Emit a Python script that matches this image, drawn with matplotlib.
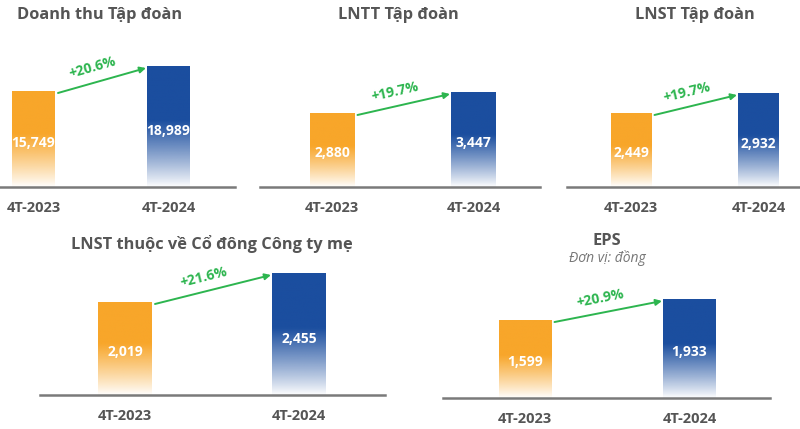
import numpy as np
import matplotlib.pyplot as plt
from matplotlib.colors import to_rgb

plt.rcParams["font.family"] = ["Open Sans", "DejaVu Sans"]

W, H, DPI = 800, 429, 100

# ---- data -------------------------------------------------------------
periods = ["4T-2023", "4T-2024"]
titles = ["Doanh thu Tập đoàn", "LNTT Tập đoàn", "LNST Tập đoàn",
          "LNST thuộc về Cổ đông Công ty mẹ", "EPS"]
revenue = [15749, 18989]
pbt = [2880, 3447]
pat = [2449, 2932]
pat_parent = [2019, 2455]
eps = [1599, 1933]
growth = ["+20.6%", "+19.7%", "+19.7%", "+21.6%", "+20.9%"]
eps_unit = "Đơn vị: đồng"

series = [revenue, pbt, pat, pat_parent, eps]

# ---- layout (pixels) ---------------------------------------------------
# l/r: baseline extent, base: baseline y, c0/c1: bar centres, w: bar width,
# top: top pixel of the taller bar, floor: y value at baseline, ax_top: axes top
layout = [
    dict(l=0, r=235, base=187, c0=33.5, c1=168.5, w=43, top=66, floor=3300, ax_top=30, tx=100, ty=15),
    dict(l=260, r=540, base=187, c0=332, c1=473.5, w=45, top=92, floor=880, ax_top=30, tx=398, ty=15),
    dict(l=567, r=800, base=187, c0=631, c1=758.5, w=41, top=93, floor=660, ax_top=30, tx=695, ty=15),
    dict(l=40, r=385, base=395, c0=125, c1=299, w=54, top=273, floor=620, ax_top=262, tx=212, ty=244),
    dict(l=443, r=770, base=398, c0=525, c1=689.5, w=53, top=299, floor=360, ax_top=262, tx=607, ty=241),
]

ORANGE = "#F8A62A"
BLUE = "#1B4E9F"
GREEN = "#2DB54F"
GREY_TXT = "#555555"
GREY_LINE = "#7A7A7A"


def gradient_img(color, n=256):
    r, g, b = to_rgb(color)
    frac = np.linspace(0, 1, n)
    alpha = np.clip(frac / 0.55, 0, 1) ** 0.9
    alpha = np.maximum(alpha, 0.03)
    img = np.zeros((n, 1, 4))
    img[:, 0, 0], img[:, 0, 1], img[:, 0, 2] = r, g, b
    img[:, 0, 3] = alpha
    return img


fig = plt.figure(figsize=(W / DPI, H / DPI), dpi=DPI)
fig.patch.set_facecolor("white")

for i, (vals, lay) in enumerate(zip(series, layout)):
    l, r, base = lay["l"], lay["r"], lay["base"]
    ax = fig.add_axes([l / W, 1 - base / H, (r - l) / W, (base - lay["ax_top"]) / H])
    ax.set_facecolor("none")

    span = lay["c1"] - lay["c0"]
    ax.set_xlim((l - lay["c0"]) / span, (r - lay["c0"]) / span)
    floor = lay["floor"]
    s = (base - lay["top"]) / (vals[1] - floor)  # px per unit
    ytop = floor + (base - lay["ax_top"]) / s
    ax.set_ylim(floor, ytop)

    bw = lay["w"] / span
    bars = ax.bar([0, 1], vals, width=bw, color="none", edgecolor="none")
    for bar, v, col in zip(bars, vals, [ORANGE, BLUE]):
        x0 = bar.get_x()
        im = ax.imshow(gradient_img(col), extent=(x0, x0 + bw, floor, v),
                       origin="lower", aspect="auto", zorder=2)
        im.set_clip_path(bar)
        ax.text(bar.get_x() + bw / 2, floor + 0.46 * (v - floor), f"{v:,}",
                ha="center", va="center", color="white", fontsize=10,
                fontweight="bold", zorder=3)
    ax.set_xlim((l - lay["c0"]) / span, (r - lay["c0"]) / span)
    ax.set_ylim(floor, ytop)

    # growth arrow
    start = (bw / 2 + 3 / span, vals[0] - 2 / s)
    end = (1 - bw / 2 - 1 / span, vals[1] - 2 / s)
    ax.annotate("", xy=end, xytext=start,
                arrowprops=dict(arrowstyle="-|>", color=GREEN, lw=1.4,
                                mutation_scale=9, shrinkA=0, shrinkB=0))
    p0 = ax.transData.transform(start)
    p1 = ax.transData.transform(end)
    ang = np.degrees(np.arctan2(p1[1] - p0[1], p1[0] - p0[0]))
    mid = ((start[0] + end[0]) / 2, (start[1] + end[1]) / 2)
    rad = np.radians(ang)
    off_px = 13
    ox = (-np.sin(rad) * off_px - 6) * 72 / DPI
    oy = (np.cos(rad) * off_px) * 72 / DPI
    ax.annotate(growth[i], xy=mid, xytext=(ox, oy), textcoords="offset points",
                ha="center", va="center", rotation=ang, rotation_mode="anchor",
                color=GREEN, fontsize=10, fontweight="bold")

    # axes cosmetics
    for side in ["top", "right", "left"]:
        ax.spines[side].set_visible(False)
    ax.spines["bottom"].set_color(GREY_LINE)
    ax.spines["bottom"].set_linewidth(1.8)
    ax.set_yticks([])
    ax.set_xticks([0, 1])
    ax.set_xticklabels(periods, fontsize=10.5, fontweight="bold", color=GREY_TXT)
    ax.tick_params(axis="x", length=0, pad=10)

    fig.text(lay["tx"] / W, 1 - lay["ty"] / H, titles[i], ha="center", va="center",
             fontsize=11.8, fontweight="bold", color=GREY_TXT)

fig.text(607 / W, 1 - 258 / H, eps_unit, ha="center", va="center",
         fontsize=10, fontstyle="italic", color="#777777")

fig.savefig("out.png", dpi=DPI, facecolor="white")
